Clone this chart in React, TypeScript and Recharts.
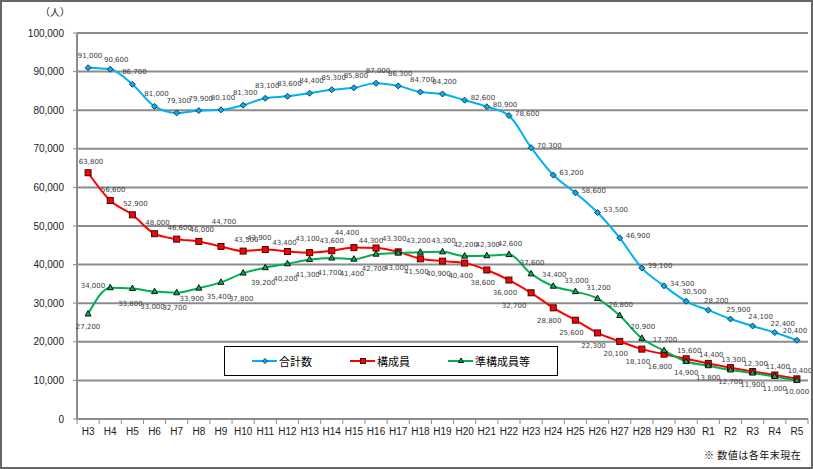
import React from "react";
import { LineChart, Line, XAxis, YAxis, CartesianGrid, Legend, LabelList } from "recharts";

const categories = [
  "H3", "H4", "H5", "H6", "H7", "H8", "H9", "H10", "H11", "H12", "H13",
  "H14", "H15", "H16", "H17", "H18", "H19", "H20", "H21", "H22", "H23",
  "H24", "H25", "H26", "H27", "H28", "H29", "H30", "R1", "R2", "R3", "R4", "R5",
];

// 合計数
const totalCounts = [
  91000, 90600, 86700, 81000, 79300, 79900, 80100, 81300, 83100, 83600, 84400,
  85300, 85800, 87000, 86300, 84700, 84200, 82600, 80900, 78600, 70300,
  63200, 58600, 53500, 46900, 39100, 34500, 30500, 28200, 25900, 24100, 22400, 20400,
];

// 構成員
const memberCounts = [
  63800, 56600, 52900, 48000, 46600, 46000, 44700, 43500, 43900, 43400, 43100,
  43600, 44400, 44300, 43300, 41500, 40900, 40400, 38600, 36000, 32700,
  28800, 25600, 22300, 20100, 18100, 16800, 15600, 14400, 13300, 12300, 11400, 10400,
];

// 準構成員等
const associateCounts = [
  27200, 34000, 33800, 33000, 32700, 33900, 35400, 37800, 39200, 40200, 41300,
  41700, 41400, 42700, 43000, 43200, 43300, 42200, 42300, 42600, 37600,
  34400, 33000, 31200, 26800, 20900, 17700, 14900, 13800, 12700, 11900, 11000, 10000,
];

const yTicks = [0, 10000, 20000, 30000, 40000, 50000, 60000, 70000, 80000, 90000, 100000];

const data = categories.map((year, i) => ({
  year,
  total: totalCounts[i],
  member: memberCounts[i],
  associate: associateCounts[i],
}));

const W = 813;
const H = 469;
const MARGIN = { top: 33, right: 5, bottom: 20, left: 0 };
const Y_AXIS_W = 77;
const BAND = (W - MARGIN.right - Y_AXIS_W) / categories.length;

const BLUE = "#00B0F0";
const RED = "#FF0000";
const GREEN = "#00B050";
const GRID = "#8c8c8c";
const JP = '"Noto Sans CJK JP", "Noto Sans", sans-serif';
const LATIN = '"Liberation Sans", Arial, sans-serif';

const fmt = (v: number) => v.toLocaleString("en-US");

const Diamond = (p: any) => {
  const { cx, cy, r = 4 } = p;
  if (cx == null || cy == null) return null;
  return (
    <polygon
      points={`${cx},${cy - r} ${cx + r},${cy} ${cx},${cy + r} ${cx - r},${cy}`}
      fill={BLUE}
      stroke="#1b3a57"
      strokeWidth={1}
    />
  );
};

const Square = (p: any) => {
  const { cx, cy, r = 4 } = p;
  if (cx == null || cy == null) return null;
  return <rect x={cx - r} y={cy - r} width={r * 2} height={r * 2} fill={RED} stroke="#3b0a0a" strokeWidth={1} />;
};

const Triangle = (p: any) => {
  const { cx, cy, r = 4 } = p;
  if (cx == null || cy == null) return null;
  return (
    <polygon
      points={`${cx},${cy - r - 0.5} ${cx + r},${cy + r - 1} ${cx - r},${cy + r - 1}`}
      fill={GREEN}
      stroke="#111"
      strokeWidth={1}
    />
  );
};

// category label plus Excel-style tick marks on the band edges
const YearTick = (p: any) => {
  const { x, y, payload, index } = p;
  const axisY = y - 9;
  const left = x - BAND / 2;
  const right = x + BAND / 2;
  return (
    <g>
      <line x1={left} y1={axisY} x2={left} y2={axisY + 5} stroke={GRID} strokeWidth={1} />
      {index === categories.length - 1 && (
        <line x1={right} y1={axisY} x2={right} y2={axisY + 5} stroke={GRID} strokeWidth={1} />
      )}
      <text x={x} y={y} dy="0.71em" textAnchor="middle" fontSize={10} fontFamily={LATIN} fill="#222">
        {payload.value}
      </text>
    </g>
  );
};

const labelText = (x: number, y: number, value: number, anchor: string) => (
  <text
    x={x}
    y={y}
    textAnchor={anchor as any}
    dominantBaseline="central"
    fontSize={7}
    fontFamily='"DejaVu Sans", Verdana, sans-serif'
    fill="#404040"
  >
    {fmt(value)}
  </text>
);

const totalLabel = (p: any) => {
  const { x, y, value, index } = p;
  if (index >= 27) return labelText(x + (index === 32 ? -2 : 8), y - 9, value, "middle");
  if (index >= 17) return labelText(x + 6, y - 2, value, "start");
  if (index === 1) return labelText(x + 6, y - 9, value, "middle");
  return labelText(x + 2, y - 12, value, "middle");
};

// nudges for the crowded H11–H17 labels
const memberNudge: Record<number, [number, number]> = {
  8: [-6, -12],
  9: [-3, -8],
  10: [-2, -14],
  11: [0, -10],
  12: [-7, -15],
  13: [-5, -7],
  14: [-4, -13],
};

const memberLabel = (p: any) => {
  const { x, y, value, index } = p;
  const nudge = memberNudge[index];
  if (nudge) return labelText(x + nudge[0], y + nudge[1], value, "middle");
  if (index <= 14) return labelText(x + 3, y + (index === 6 ? -24 : -11), value, "middle");
  if (index <= 26) return labelText(x + (index === 20 ? -17 : -4), y + 13, value, "middle");
  return labelText(x + 3, y - 8, value, "middle");
};

const associateLabel = (p: any) => {
  const { x, y, value, index } = p;
  if (index === 0) return labelText(x, y + 13, value, "middle");
  if (index === 1) return labelText(x - 5, y - 2, value, "end");
  if (index === 5) return labelText(x - 7, y + 11, value, "middle");
  if (index <= 14) return labelText(x - 2, y + (index === 7 ? 26 : 15), value, "middle");
  if (index === 15) return labelText(x - 2, y - 11, value, "middle");
  if (index <= 26) return labelText(x + 1, y - 11, value, "middle");
  return labelText(x, y + 12, value, "middle");
};

const markerFor: Record<string, (p: any) => any> = {
  total: Diamond,
  member: Square,
  associate: Triangle,
};

const LegendBox = (props: any) => {
  const payload = props.payload || [];
  return (
    <div
      style={{
        boxSizing: "border-box",
        width: 334,
        height: 30,
        border: "1px solid #000",
        background: "#fff",
        display: "flex",
        alignItems: "center",
        justifyContent: "center",
        gap: 38,
      }}
    >
      {payload.map((item: any) => {
        const Marker = markerFor[item.dataKey];
        return (
          <div key={item.dataKey} style={{ display: "flex", alignItems: "center" }}>
            <svg width={25} height={10}>
              <line x1={0} y1={5} x2={25} y2={5} stroke={item.color} strokeWidth={2} />
              <Marker cx={13} cy={5} r={2.5} />
            </svg>
            <span style={{ fontFamily: JP, fontSize: 11, color: "#000", marginLeft: 2 }}>{item.value}</span>
          </div>
        );
      })}
    </div>
  );
};

export default function App() {
  return (
    <div style={{ position: "relative", width: W, height: H, background: "#fff" }}>
      <style>{`body{margin:0;}`}</style>
      <LineChart width={W} height={H} data={data} margin={MARGIN}>
        <CartesianGrid vertical={false} stroke={GRID} strokeWidth={2} />
        <XAxis
          dataKey="year"
          padding={{ left: BAND / 2, right: BAND / 2 }}
          interval={0}
          height={30}
          tickLine={false}
          tickSize={6}
          tickMargin={3}
          axisLine={{ stroke: GRID, strokeWidth: 2 }}
          tick={<YearTick />}
        />
        <YAxis
          domain={[0, 100000]}
          ticks={yTicks}
          width={Y_AXIS_W}
          tickFormatter={fmt}
          tickSize={4}
          tickMargin={9}
          tickLine={{ stroke: GRID, strokeWidth: 1 }}
          axisLine={{ stroke: GRID, strokeWidth: 2 }}
          tick={{ fontSize: 10, fontFamily: LATIN, fill: "#222" }}
        />
        <Legend
          layout="horizontal"
          verticalAlign="middle"
          align="center"
          content={LegendBox}
          wrapperStyle={{ top: 346, left: 224, width: 334, height: 30 }}
        />
        <Line
          type="monotone"
          dataKey="total"
          name="合計数"
          stroke={BLUE}
          strokeWidth={2}
          dot={<Diamond />}
          activeDot={false}
          isAnimationActive={false}
        >
          <LabelList dataKey="total" content={totalLabel} />
        </Line>
        <Line
          type="monotone"
          dataKey="member"
          name="構成員"
          stroke={RED}
          strokeWidth={2}
          dot={<Square />}
          activeDot={false}
          isAnimationActive={false}
        >
          <LabelList dataKey="member" content={memberLabel} />
        </Line>
        <Line
          type="monotone"
          dataKey="associate"
          name="準構成員等"
          stroke={GREEN}
          strokeWidth={2}
          dot={<Triangle />}
          activeDot={false}
          isAnimationActive={false}
        >
          <LabelList dataKey="associate" content={associateLabel} />
        </Line>
      </LineChart>
      <div style={{ position: "absolute", left: 40, top: 4, fontFamily: JP, fontSize: 10, color: "#222" }}>
        （人）
      </div>
      <div
        style={{
          position: "absolute",
          left: 704,
          top: 447,
          fontFamily: JP,
          fontSize: 10,
          letterSpacing: 0.5,
          color: "#111",
        }}
      >
        ※ 数値は各年末現在
      </div>
      <div style={{ position: "absolute", inset: 0, border: "2px solid #666", pointerEvents: "none" }} />
    </div>
  );
}
